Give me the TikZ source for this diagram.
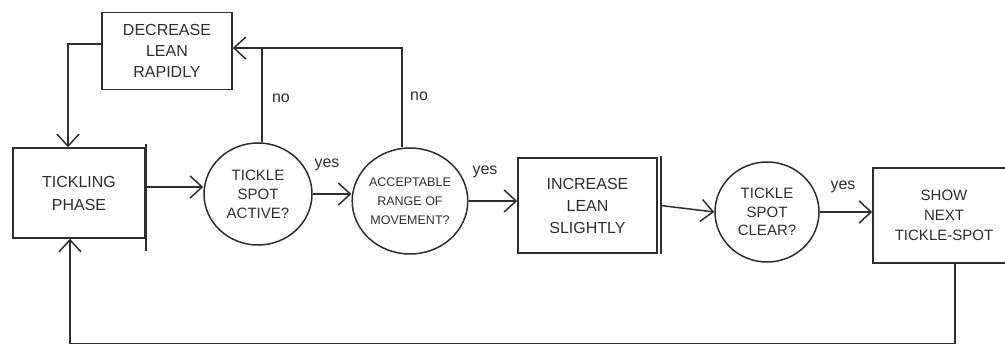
\documentclass[tikz,border=0pt]{standalone}
\usepackage{fontspec}
\setmainfont{Liberation Sans}
\usetikzlibrary{arrows.meta,shapes.geometric}
\definecolor{ink}{HTML}{2E2E2E}
\tikzset{
  ink/.style={draw=ink, text=ink},
  box/.style={ink, rectangle, inner sep=0pt, align=center, font=\fontsize{16}{21}\selectfont},
  dec/.style={ink, ellipse, inner sep=0pt, align=center, font=\fontsize{15}{19}\selectfont},
  arr/.style={ink, -{Straight Barb[length=12pt,width=22pt]}},
  conn/.style={ink},
  lbl/.style={text=ink, font=\fontsize{16}{18}\selectfont, inner sep=0pt}
}
\begin{document}
\begin{tikzpicture}[x=1pt,y=-1pt,line width=1.5pt]
\clip (0,0) rectangle (1005,347);
\fill[white] (0,0) rectangle (1005,347);

% nodes
\node[box, minimum width=130pt, minimum height=77pt] (dec) at (167,51) {DECREASE\\LEAN\\RAPIDLY};
\node[box, minimum width=132pt, minimum height=90pt, font=\fontsize{16}{23}\selectfont] (tick) at (79,193) {TICKLING\\PHASE};
\node[dec, minimum width=108pt, minimum height=102pt] (c1) at (258,194) {TICKLE\\SPOT\\ACTIVE?};
\node[dec, minimum width=114pt, minimum height=106pt, font=\fontsize{12.5}{19}\selectfont] (c2) at (410,201) {ACCEPTABLE\\RANGE OF\\MOVEMENT?};
\node[box, minimum width=139pt, minimum height=95pt, font=\fontsize{16}{22}\selectfont] (inc) at (587.5,205.5) {INCREASE\\LEAN\\SLIGHTLY};
\node[dec, minimum width=104pt, minimum height=100pt, font=\fontsize{15}{18.5}\selectfont] (c3) at (767,212) {TICKLE\\SPOT\\CLEAR?};
\node[box, minimum width=160pt, minimum height=95pt, text width=140pt, font=\fontsize{15}{20}\selectfont] (show) at (953,215.5) {\hspace*{-18pt}SHOW\\\hspace*{-18pt}NEXT\\\hspace*{-18pt}TICKLE-SPOT};

% sketch extensions of edges
\draw[conn] ([yshift=3pt]tick.north east) -- ([yshift=-12pt]tick.south east);
\draw[conn] ([xshift=3pt,yshift=1pt]inc.north east) -- ([xshift=3pt]inc.south east);

% connectors
\draw[arr] ([yshift=6pt]tick.east) -- ([yshift=6pt]tick.east -| c1.west);
\draw[arr] (c1.east) -- (c1.east -| c2.west);
\draw[arr] (c2.east) -- (c2.east -| inc.west);
\draw[arr] ([xshift=3pt]inc.east) -- (c3.west);
\draw[arr] (c3.east) -- (c3.east -| show.west);

\draw[arr] ([xshift=4pt]c1.north) |- ([yshift=3pt]dec.east);
\draw[conn] ([xshift=-8pt]c2.north) |- ([xshift=4pt,yshift=3pt]c1.north |- dec.east);
\draw[arr] ([yshift=7pt]dec.west) -| ([xshift=-11pt]tick.north);
\draw[arr] ([xshift=2pt]show.south) -- ++(0,80) -| ([xshift=-9pt]tick.south);

% labels
\node[lbl] (no1) at (281,98) {no};
\node[lbl] (no2) at (419,96) {no};
\node[lbl] (y1) at (327,165) {yes};
\node[lbl] (y2) at (485,172) {yes};
\node[lbl] (y3) at (843,187) {yes};
\end{tikzpicture}
\end{document}
